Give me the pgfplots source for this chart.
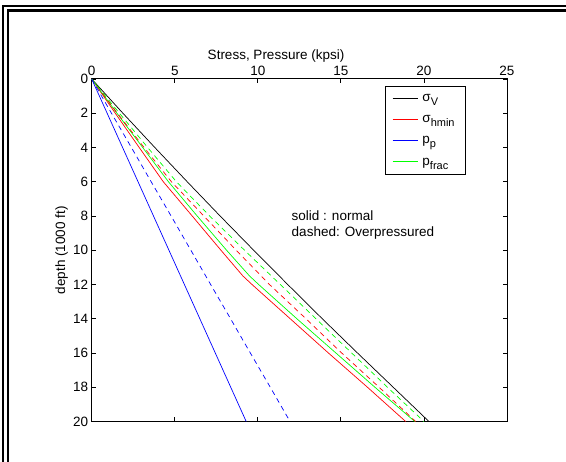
\documentclass[border=0pt]{standalone}
\usepackage{pgfplots}
\pgfplotsset{compat=1.18}
\usepackage{fontspec}
\setmainfont{Liberation Sans}
\newcommand\sub[1]{\raisebox{-0.55ex}{\fontsize{11}{12}\selectfont #1}}
\begin{document}
\begin{tikzpicture}[font=\fontsize{13.5}{16}\selectfont]
\useasboundingbox (0,0) rectangle (566pt,462pt);
\fill[white] (0,0) rectangle (566pt,462pt);
\draw[line width=2pt] (2.5pt,0) -- (2.5pt,456pt) -- (566pt,456pt);
\draw[line width=2.3pt] (7.8pt,0) -- (7.8pt,451.5pt) -- (566pt,451.5pt);
\begin{axis}[at={(91.7pt,40.5pt)}, anchor=south west, scale only axis,
  width=415.3pt, height=342.5pt,
  xmin=0, xmax=25, ymin=0, ymax=20, y dir=reverse,
  xtick={0,5,...,25}, ytick={0,2,...,20},
  xticklabel pos=upper, tick align=inside, major tick length=4pt,
  axis line style={line width=1pt},
  every tick/.style={black, line width=0.8pt},
  /pgf/number format/assume math mode=true,
  xlabel={Stress, Pressure (kpsi)},
  xlabel style={at={(axis description cs:0.4438,1.067)}, anchor=center},
  ylabel={depth (1000 ft)},
  ylabel style={at={(axis description cs:-0.0722,0.5)}, anchor=center},
  legend image code/.code={\draw[#1, line width=1.4pt] (0pt,0.5pt) -- (25pt,0.5pt);},
  legend cell align=left,
  legend style={at={(axis description cs:0.9013,0.9796)}, anchor=north east,
    draw=black, line width=0.8pt, row sep=8.5pt, inner xsep=7pt, inner ysep=6pt,
    nodes={inner xsep=4pt}},
]
% solid: normal
\addplot[draw=black, line width=0.7pt] coordinates {(0,0) (1.88,2) (3.8,4) (5.75,6) (7.73,8) (9.75,10) (11.8,12) (13.88,14) (16.0,16) (18.15,18) (20.3,20)};
\addlegendentry{σ\sub{V}}
\addplot[draw=red, line width=0.7pt] coordinates {(0,0) (1.42,2) (2.86,4) (4.31,6) (6.05,8) (7.78,10) (9.1,11.5) (9.65,12) (11.95,14) (14.25,16) (16.6,18) (18.9,20)};
\addlegendentry{σ\sub{hmin}}
\addplot[draw=blue, line width=0.7pt] coordinates {(0,0) (0.93,2) (1.86,4) (2.79,6) (3.72,8) (4.65,10) (5.58,12) (6.51,14) (7.44,16) (8.37,18) (9.3,20)};
\addlegendentry{p\sub{p}}
\addplot[draw=green, line width=0.7pt] coordinates {(0,0) (1.52,2) (3.07,4) (4.62,6) (6.35,8) (8.12,10) (9.5,11.5) (10.05,12) (12.35,14) (14.7,16) (17.05,18) (19.45,20)};
\addlegendentry{p\sub{frac}}
% dashed: overpressured
\addplot[draw=red, line width=0.7pt, dash pattern=on 5pt off 4pt, forget plot] coordinates {(0,0) (1.55,2) (3.15,4) (4.8,6) (6.75,8) (8.7,10) (10.7,12) (12.9,14) (15.05,16) (17.3,18) (19.5,20)};
\addplot[draw=green, line width=0.7pt, dash pattern=on 5pt off 4pt, forget plot] coordinates {(0,0) (1.67,2) (3.37,4) (5.1,6) (7.1,8) (9.2,10) (11.35,12) (13.5,14) (15.65,16) (17.8,18) (20.0,20)};
\addplot[draw=blue, line width=0.7pt, dash pattern=on 5pt off 4pt, forget plot] coordinates {(0,0) (1.19,2) (2.39,4) (3.58,6) (4.78,8) (5.97,10) (7.16,12) (8.36,14) (9.55,16) (10.75,18) (11.94,20)};
\node[anchor=west, inner sep=0pt] at (axis cs:12.03,8) {solid : normal};
\node[anchor=west, inner sep=0pt] at (axis cs:12.03,9) {dashed: Overpressured};
\end{axis}
\end{tikzpicture}
\end{document}
